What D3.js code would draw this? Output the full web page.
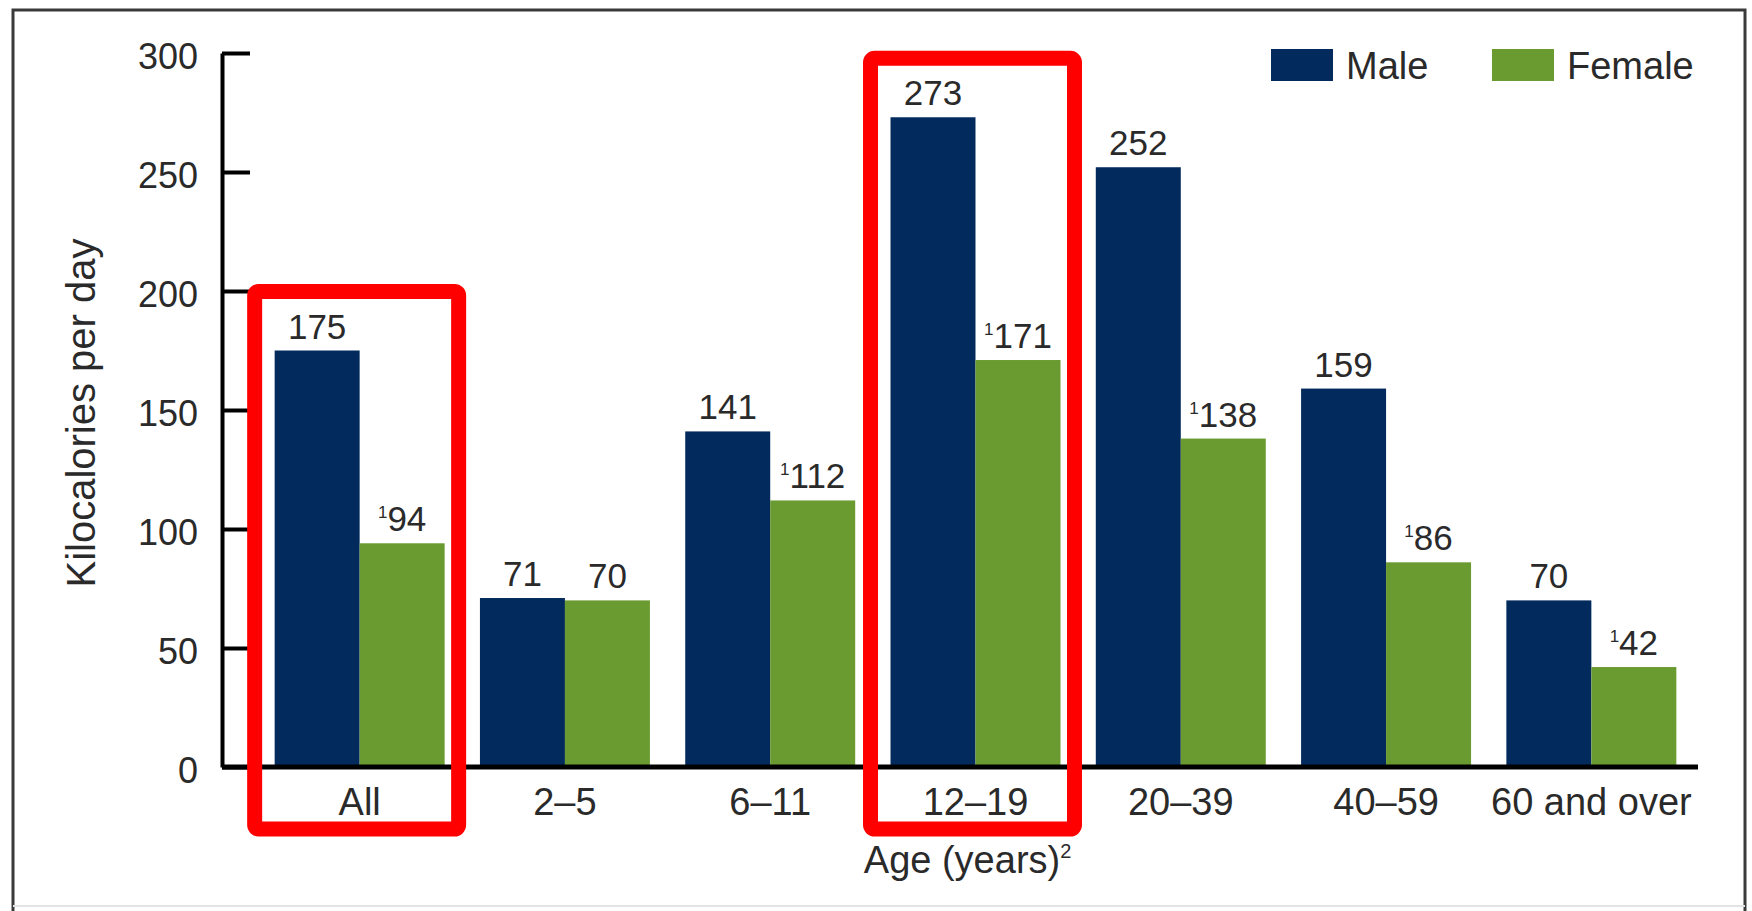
<!DOCTYPE html>
<html>
<head>
<meta charset="utf-8">
<script src="https://cdn.jsdelivr.net/npm/d3@7"></script>
<style>
  body { margin: 0; background: #fff; }
  text { font-family: "Liberation Sans", Arial, Helvetica, sans-serif; fill: #2a2a2a; }
</style>
</head>
<body>
<div id="chart"></div>
<script>
const categories = ["All", "2–5", "6–11", "12–19", "20–39", "40–59", "60 and over"];
const series = ["Male", "Female"];
const maleValues = [175, 71, 141, 273, 252, 159, 70];
const femaleValues = [94, 70, 112, 171, 138, 86, 42];
// footnote 1 marks on the female labels
const femaleNote = ["1", "", "1", "1", "1", "1", "1"];
const yTicks = [0, 50, 100, 150, 200, 250, 300];
const highlighted = ["All", "12–19"];

const width = 1752;
const height = 911;
const colors = { Male: "#022a5c", Female: "#6a9b30" };

const svg = d3.select("#chart")
  .append("svg")
  .attr("width", width)
  .attr("height", height);

// outer frame
svg.append("path")
  .attr("d", `M13,911V10H1745V911`)
  .attr("fill", "none")
  .attr("stroke", "#3a3a3a")
  .attr("stroke-width", 3);
svg.append("line")
  .attr("x1", 13).attr("x2", 1745)
  .attr("y1", 906).attr("y2", 906)
  .attr("stroke", "#e4e4e4")
  .attr("stroke-width", 2);

const y = d3.scaleLinear().domain([0, 300]).range([767, 53]);

const x0 = d3.scaleBand()
  .domain(categories)
  .range([257, 1694])
  .paddingInner(0.172)
  .paddingOuter(0.086);

const x1 = d3.scaleBand()
  .domain(series)
  .range([0, x0.bandwidth()]);

const rows = categories.map((c, i) => ({
  cat: c,
  vals: [
    { key: "Male", value: maleValues[i], note: "" },
    { key: "Female", value: femaleValues[i], note: femaleNote[i] }
  ]
}));

// y axis, ticks pointing inward
const yAxis = svg.append("g")
  .attr("transform", "translate(222,0)")
  .call(d3.axisLeft(y).tickValues(yTicks).tickSize(-28).tickSizeOuter(0).tickPadding(24));
yAxis.select(".domain").attr("stroke", "#000").attr("stroke-width", 4);
yAxis.selectAll(".tick line").attr("stroke", "#000").attr("stroke-width", 4);
yAxis.selectAll(".tick text")
  .attr("font-size", 36)
  .attr("font-family", "Liberation Sans, Arial, sans-serif")
  .attr("fill", "#2a2a2a")
  .attr("dy", "0.42em");

svg.append("text")
  .attr("transform", "translate(95,413) rotate(-90)")
  .attr("text-anchor", "middle")
  .attr("font-size", 40)
  .text("Kilocalories per day");

// bars
const groups = svg.append("g")
  .selectAll("g")
  .data(rows)
  .enter()
  .append("g")
  .attr("transform", d => `translate(${x0(d.cat)},0)`);

groups.selectAll("rect")
  .data(d => d.vals)
  .enter()
  .append("rect")
  .attr("x", d => x1(d.key))
  .attr("y", d => y(d.value))
  .attr("width", x1.bandwidth())
  .attr("height", d => y(0) - y(d.value))
  .attr("fill", d => colors[d.key]);

const labels = groups.selectAll("text.value")
  .data(d => d.vals)
  .enter()
  .append("text")
  .attr("class", "value")
  .attr("x", d => x1(d.key) + x1.bandwidth() / 2)
  .attr("y", d => y(d.value) - 12)
  .attr("text-anchor", "middle")
  .attr("font-size", 35);

labels.filter(d => d.note)
  .append("tspan")
  .attr("font-size", 17)
  .attr("dy", -13)
  .text(d => d.note);
labels.append("tspan")
  .attr("dy", d => d.note ? 13 : 0)
  .text(d => d.value);

// baseline
svg.append("line")
  .attr("x1", 222).attr("x2", 1698)
  .attr("y1", y(0)).attr("y2", y(0))
  .attr("stroke", "#000")
  .attr("stroke-width", 5);

// category labels
const xAxis = svg.append("g")
  .attr("transform", `translate(0,${y(0)})`)
  .call(d3.axisBottom(x0).tickSize(0).tickPadding(21));
xAxis.select(".domain").remove();
xAxis.selectAll(".tick text")
  .attr("font-size", 38)
  .attr("font-family", "Liberation Sans, Arial, sans-serif")
  .attr("fill", "#2a2a2a");

const xTitle = svg.append("text")
  .attr("x", 960)
  .attr("y", 873)
  .attr("text-anchor", "start")
  .attr("font-size", 38);
xTitle.append("tspan").text("Age (years)");
xTitle.append("tspan").attr("font-size", 20).attr("dy", -15).text("2");
const tw = xTitle.select("tspan").node().getComputedTextLength();
xTitle.attr("x", 962 - tw / 2);

// legend
const legend = svg.append("g")
  .selectAll("g")
  .data(series)
  .enter()
  .append("g")
  .attr("transform", (d, i) => `translate(${[1271, 1492][i]},49)`);
legend.append("rect")
  .attr("width", 62)
  .attr("height", 32)
  .attr("fill", d => colors[d]);
legend.append("text")
  .attr("x", 75)
  .attr("y", 30)
  .attr("font-size", 38)
  .text(d => d);

// red highlight boxes
svg.append("g")
  .selectAll("rect")
  .data(highlighted)
  .enter()
  .append("rect")
  .attr("x", d => x0(d) - 20)
  .attr("y", d => {
    const i = categories.indexOf(d);
    return y(Math.max(maleValues[i], femaleValues[i])) - 59;
  })
  .attr("width", x0.bandwidth() + 34)
  .attr("height", d => {
    const i = categories.indexOf(d);
    return 829 - (y(Math.max(maleValues[i], femaleValues[i])) - 59);
  })
  .attr("rx", 4)
  .attr("fill", "none")
  .attr("stroke", "#ff0000")
  .attr("stroke-width", 15);
</script>
</body>
</html>
